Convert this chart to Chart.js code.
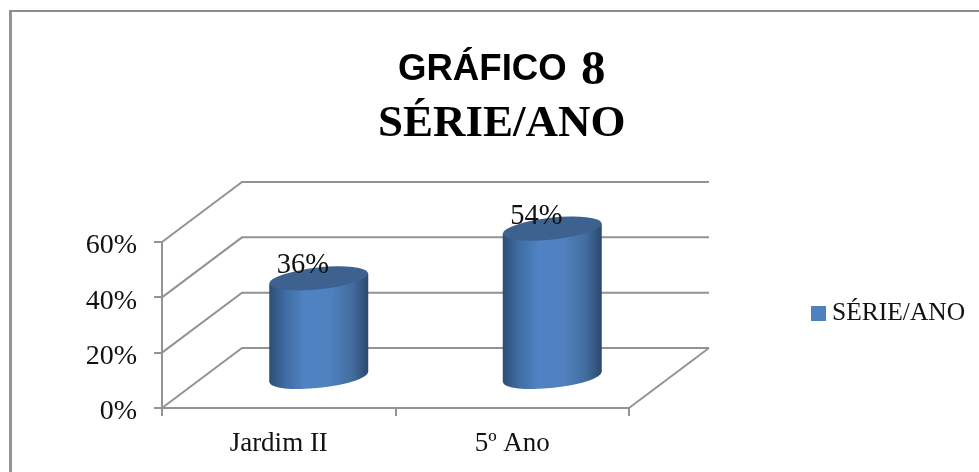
<!DOCTYPE html>
<html>
<head>
<meta charset="utf-8">
<title>Série/Ano</title>
<script src="https://cdn.jsdelivr.net/npm/chart.js@4"></script>
<style>
    html, body { margin: 0; padding: 0; background: #fff; }
    #wrap { position: relative; width: 979px; height: 472px; overflow: hidden; }
    #chart { position: absolute; left: 0; top: 0; }
    /* frame is cut off at right and bottom in the original */
    #frame { position: absolute; left: 9px; top: 10px; width: 1000px; height: 500px; border-left: 3px solid #939393; border-top: 2px solid #8c8c8c; }
    .title { position: absolute; white-space: nowrap; color: #000; line-height: 1; }
    #t1 { left: 398px; top: 47px; font: bold 36.6px "Liberation Sans"; }
    #t2 { left: 581px; top: 39px; font: bold 49px "Liberation Serif"; }
    #t3 { left: 378px; top: 95px; font: bold 45px "Liberation Serif"; }
    #legend { position: absolute; left: 811px; top: 297px; font: 25.5px "Liberation Serif"; color: #111; line-height: 30px; white-space: nowrap; }
    #legend i { display: inline-block; width: 15px; height: 15px; margin-right: 6px; vertical-align: -1px; }
</style>
</head>
<body>
<div id="wrap">
    <div id="frame"></div>
    <canvas id="chart" width="979" height="472"></canvas>
    <div class="title" id="t1"></div>
    <div class="title" id="t2"></div>
    <div class="title" id="t3"></div>
    <div id="legend"></div>
</div>
<script>
const categories = ["Jardim II", "5º Ano"]
const seriesName = "SÉRIE/ANO"
const seriesValues = [36, 54]
const yTicks = [0, 20, 40, 60]
const titleParts = ["GRÁFICO", "8", "SÉRIE/ANO"]

const blue = "#4f81bd"
const lineColor = "#939393"

document.getElementById("t1").textContent = titleParts[0]
document.getElementById("t2").textContent = titleParts[1]
document.getElementById("t3").textContent = titleParts[2]
document.getElementById("legend").innerHTML = `<i style="background:${blue}"></i>${seriesName}`

// how far the back wall sits from the front axes
const depthX = 80
const depthY = 60

// Walls and floor behind the bars
const wallsPlugin = {
    id: "walls",
    beforeDatasetsDraw(chart) {
        const { ctx, chartArea, scales } = chart
        ctx.save()
        ctx.strokeStyle = lineColor
        ctx.lineWidth = 2
        yTicks.forEach((tick) => {
            const y = scales.y.getPixelForValue(tick)
            ctx.beginPath()
            ctx.moveTo(chartArea.left, y)
            ctx.lineTo(chartArea.left + depthX, y - depthY)
            ctx.lineTo(chartArea.right + depthX, y - depthY)
            ctx.stroke()
        })
        ctx.beginPath()
        ctx.moveTo(chartArea.right, chartArea.bottom)
        ctx.lineTo(chartArea.right + depthX, chartArea.bottom - depthY)
        ctx.stroke()
        ctx.restore()
    },
}

// Bars are drawn as tilted cylinders from the positions Chart.js worked out
const cylinderPlugin = {
    id: "cylinders",
    afterDatasetsDraw(chart) {
        const { ctx } = chart
        const tilt = (6.1 * Math.PI) / 180
        chart.getDatasetMeta(0).data.forEach((bar, i) => {
            const cx = bar.x + depthX / 2
            const top = bar.y - depthY / 2
            const bottom = bar.base - depthY / 2
            const half = bar.width / 2
            const rx = half
            const ry = 10.9
            const lean = 5

            const grad = ctx.createLinearGradient(cx - half, 0, cx + half, 0)
            grad.addColorStop(0, "#2d4d74")
            grad.addColorStop(0.16, "#3f6ca3")
            grad.addColorStop(0.36, "#4f83c3")
            grad.addColorStop(0.62, "#4f81bf")
            grad.addColorStop(0.84, "#426d9f")
            grad.addColorStop(1, "#2b486c")

            ctx.save()
            ctx.fillStyle = grad
            ctx.beginPath()
            ctx.ellipse(cx, bottom, rx, ry, -tilt, 0, Math.PI * 2)
            ctx.fill()
            ctx.beginPath()
            ctx.moveTo(cx - half, top + lean)
            ctx.lineTo(cx + half, top - lean)
            ctx.lineTo(cx + half, bottom - lean)
            ctx.lineTo(cx - half, bottom + lean)
            ctx.closePath()
            ctx.fill()
            ctx.fillStyle = "#3d628f"
            ctx.beginPath()
            ctx.ellipse(cx, top, rx, ry, -tilt, 0, Math.PI * 2)
            ctx.fill()

            // value label sits on the top of the cylinder
            ctx.fillStyle = "#111"
            ctx.font = '28.5px "Liberation Serif"'
            ctx.textAlign = "center"
            ctx.textBaseline = "alphabetic"
            ctx.fillText(`${seriesValues[i]}%`, cx - 16, top - 5)
            ctx.restore()
        })
    },
}

new Chart(document.getElementById("chart"), {
    type: "bar",
    data: {
        labels: categories,
        datasets: [
            {
                label: seriesName,
                data: seriesValues,
                backgroundColor: "rgba(0, 0, 0, 0)",
                barPercentage: 0.424,
                categoryPercentage: 1,
            },
        ],
    },
    options: {
        responsive: false,
        animation: false,
        layout: { padding: { left: 0, right: 350, top: 242, bottom: 0 } },
        plugins: {
            legend: { display: false },
            tooltip: { enabled: false },
        },
        scales: {
            x: {
                afterFit(scale) {
                    scale.height = 64
                },
                border: { color: lineColor, width: 2 },
                grid: { drawOnChartArea: false, color: lineColor, lineWidth: 2, tickLength: 8 },
                ticks: { color: "#111", padding: 12, font: { family: "Liberation Serif", size: 27 }, maxRotation: 0 },
            },
            y: {
                min: 0,
                max: 60,
                afterFit(scale) {
                    scale.width = 162
                },
                border: { color: lineColor, width: 2 },
                grid: { drawOnChartArea: false, color: lineColor, lineWidth: 2, tickLength: 8 },
                ticks: {
                    stepSize: 20,
                    color: "#111",
                    padding: 17,
                    labelOffset: 4,
                    font: { family: "Liberation Serif", size: 28 },
                    callback: (value) => `${value}%`,
                },
            },
        },
    },
    plugins: [wallsPlugin, cylinderPlugin],
})
</script>
</body>
</html>
